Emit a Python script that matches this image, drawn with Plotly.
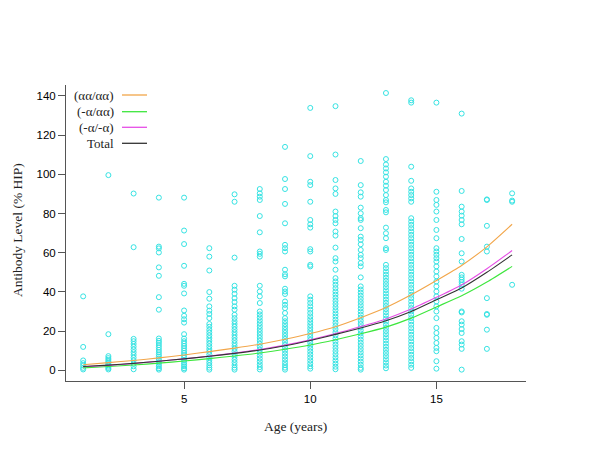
import plotly.graph_objects as go

# ---- Data ----
ages = list(range(1, 19))

a01 = [37.7, 11.9, 5.0, 3.6, 2.4, 1.2, 0.4]
a02 = [99.6, 18.4, 7.2, 6.2, 5.3, 4.5, 3.8, 3.1, 2.5, 1.8, 1.1, 0.4]
a03 = [90.2, 62.8, 16.0, 14.8, 13.4, 12.0, 10.6, 9.2, 7.8, 6.4, 5.0, 3.3, 2.0, 0.5]
a04 = [88.1, 63.1, 62.2, 60.1, 52.5, 48.2, 37.3, 30.9, 16.2, 15.0, 14.0, 12.8, 11.6,
       10.4, 9.2, 8.0, 7.0, 6.0, 5.0, 4.0, 3.0, 2.0, 1.0, 0.3]
a05 = [88.1, 71.3, 64.4, 53.3, 44.1, 43.1, 39.2, 30.5, 27.8, 26.0, 24.3, 18.4, 16.2,
       14.8, 13.6, 12.4, 11.2, 10.0, 8.8, 7.6, 6.4, 5.2, 4.0, 3.0, 2.0, 1.0, 0.3]
a06 = [62.3, 58.0, 50.9, 39.9, 36.5, 32.6, 30.4, 28.7, 26.6, 23.6, 22.2, 20.6, 19.2,
       17.8, 16.4, 15.0, 13.6, 12.2, 10.8, 9.4, 8.0, 6.6, 5.2, 3.8, 2.5, 1.3, 0.3]
a07 = [89.8, 86.0, 57.5, 43.1, 41.1, 39.0, 36.8, 34.8, 32.6, 30.9, 28.3, 26.6, 25.0,
       23.6, 22.2, 20.8, 19.4, 18.0, 16.6, 15.2, 13.8, 12.4, 11.0, 9.6, 8.2, 6.8, 5.4,
       4.0, 2.6, 1.3, 0.3]
a08 = [92.5, 90.3, 88.6, 86.9, 78.7, 70.4, 60.6, 59.4, 58.0, 43.1, 40.2, 37.7, 34.3,
       30.0, 28.5, 27.0, 25.5, 24.0, 22.5, 21.0, 19.5, 18.0, 16.5, 15.0, 13.5, 12.0,
       10.5, 9.0, 7.5, 6.0, 4.5, 3.0, 1.6, 0.4]
a09 = [114.0, 97.6, 92.5, 84.9, 75.0, 64.0, 62.3, 60.6, 51.3, 49.0, 47.9, 41.6, 40.2,
       38.9, 35.1, 33.4, 31.7, 29.2, 26.6, 25.0, 23.5, 22.0, 20.5, 19.0, 17.5, 16.0,
       14.5, 13.0, 11.5, 10.0, 8.5, 7.0, 5.5, 4.0, 2.6, 1.3, 0.3]
a10 = [133.9, 109.3, 96.2, 94.5, 86.0, 76.7, 74.5, 72.8, 61.8, 60.6, 53.8, 53.0, 37.7,
       36.0, 34.3, 32.6, 30.9, 29.2, 27.5, 26.0, 24.5, 23.0, 21.5, 20.0, 18.5, 17.0,
       15.5, 14.0, 12.5, 11.0, 9.5, 8.0, 6.5, 5.0, 3.5, 2.0, 0.8]
a11 = [134.8, 110.1, 97.1, 92.8, 90.0, 81.0, 78.7, 76.7, 75.0, 70.8, 68.7, 62.6, 57.2,
       55.5, 51.3, 47.0, 45.3, 43.6, 41.9, 40.2, 38.6, 37.0, 35.4, 33.8, 32.2, 30.6,
       29.0, 27.4, 25.8, 24.2, 22.6, 21.0, 19.4, 17.8, 16.2, 14.6, 13.0, 11.4, 9.8,
       8.2, 6.6, 5.0, 3.4, 1.8, 0.5]
a12 = [106.8, 94.5, 90.8, 88.6, 83.0, 80.1, 77.6, 76.7, 72.5, 68.2, 66.5, 64.3, 61.4,
       58.9, 57.2, 54.7, 53.0, 47.4, 42.8, 41.2, 39.6, 38.0, 36.4, 34.8, 33.2, 31.6,
       30.0, 28.4, 26.8, 25.2, 23.6, 22.0, 20.4, 18.8, 17.2, 15.6, 14.0, 12.4, 10.8,
       9.2, 7.6, 6.0, 4.4, 2.8, 1.2, 0.3]
a13 = [141.5, 107.8, 105.0, 103.0, 101.0, 98.8, 96.2, 94.2, 92.0, 89.4, 86.9, 85.7,
       81.8, 80.6, 72.8, 69.9, 67.4, 62.3, 61.4, 53.8, 52.1, 50.4, 48.8, 47.2, 45.6,
       44.0, 42.4, 40.8, 39.2, 37.6, 36.0, 34.4, 32.8, 31.2, 29.6, 28.0, 26.4, 24.8,
       23.2, 21.6, 20.0, 18.4, 16.8, 15.2, 13.6, 12.0, 10.4, 8.8, 7.2, 5.6, 4.0, 2.4, 1.0]
a14 = [137.8, 136.6, 103.9, 96.7, 92.8, 91.1, 89.4, 87.7, 86.0, 77.6, 75.9, 74.2, 72.5,
       70.8, 69.1, 67.4, 65.7, 64.0, 62.3, 60.6, 58.9, 57.2, 55.5, 53.8, 52.1, 50.4,
       48.7, 47.0, 45.3, 43.6, 41.9, 40.2, 38.5, 36.8, 35.1, 33.4, 31.7, 30.0, 28.3,
       26.6, 24.9, 23.2, 21.5, 19.8, 18.1, 16.4, 14.7, 13.0, 11.3, 9.6, 7.9, 6.2, 4.5,
       2.8, 1.2]
a15 = [136.6, 91.1, 86.9, 84.4, 81.0, 76.7, 71.6, 67.4, 62.3, 60.6, 58.9, 57.2, 55.5,
       53.0, 50.4, 47.9, 45.3, 42.8, 40.2, 37.7, 35.1, 32.6, 30.0, 26.6, 21.6, 19.0,
       16.5, 13.9, 11.4, 9.7, 4.6, 0.8]
a16 = [131.0, 91.5, 83.5, 81.0, 78.9, 76.7, 74.5, 67.0, 59.7, 55.5, 48.7, 47.4, 46.2,
       45.0, 43.6, 41.6, 30.0, 29.5, 25.0, 23.3, 21.0, 19.0, 14.8, 13.1, 10.9, 0.3]
a17 = [87.2, 86.9, 73.7, 63.1, 60.6, 36.8, 28.7, 28.3, 20.7, 10.9]
a18 = [90.3, 86.6, 86.0, 43.6]

columns = [a01, a02, a03, a04, a05, a06, a07, a08, a09,
           a10, a11, a12, a13, a14, a15, a16, a17, a18]

# fitted curves at integer ages
fit_aa_aa = [2.8, 3.9, 5.0, 6.3, 7.8, 9.5, 11.3, 13.3, 15.8, 18.7, 22.2, 26.8,
             32.0, 38.5, 45.8, 53.5, 63.0, 74.5]
fit_ma_aa = [1.2, 1.9, 2.7, 3.6, 4.7, 5.9, 7.3, 8.8, 10.7, 12.9, 15.6, 18.6,
             22.0, 26.6, 32.3, 38.0, 45.0, 53.0]
fit_ma_ma = [1.8, 2.5, 3.4, 4.6, 5.8, 7.2, 8.8, 10.6, 12.8, 15.5, 18.7, 22.3,
             26.2, 31.2, 37.2, 43.5, 51.8, 61.1]
fit_total = [1.9, 2.6, 3.5, 4.6, 5.8, 7.1, 8.6, 10.3, 12.5, 15.2, 18.3, 21.6,
             25.3, 30.0, 36.0, 42.0, 50.0, 58.9]

series_names = ["(αα/αα)", "(-α/αα)", "(-α/-α)", "Total"]
series_colors = ["#f2a64a", "#3ee63e", "#e64ee6", "#333333"]
series_values = [fit_aa_aa, fit_ma_aa, fit_ma_ma, fit_total]

x_ticks = [5, 10, 15]
y_ticks = [0, 20, 40, 60, 80, 100, 120, 140]

# ---- Figure ----
xs, ys = [], []
for age, vals in zip(ages, columns):
    xs += [age] * len(vals)
    ys += vals

fig = go.Figure()
fig.add_trace(go.Scatter(
    x=xs, y=ys, mode="markers",
    marker=dict(symbol="circle-open", size=5, color="#36e3e3", line=dict(width=1)),
    showlegend=False, hoverinfo="skip"))

for name, col, vals in zip(series_names, series_colors, series_values):
    fig.add_trace(go.Scatter(
        x=ages, y=vals, mode="lines", name=name,
        line=dict(color=col, width=1.1, shape="spline", smoothing=0.6),
        showlegend=False))

# the page body has an 8px default margin, so the figure is offset by it
axis_col = "#555555"
fig.update_layout(
    width=592, height=447,
    margin=dict(l=58, r=74, t=77, b=74, autoexpand=False),
    paper_bgcolor="white", plot_bgcolor="white",
    font=dict(family="Liberation Sans, Arial, sans-serif", size=11.5, color="#000000"),
    xaxis=dict(range=[0.32, 18.55], tickvals=x_ticks, showgrid=False, zeroline=False,
               showline=True, linecolor=axis_col, linewidth=1, automargin=False,
               ticks="outside", ticklen=7, tickcolor=axis_col, tickwidth=1),
    yaxis=dict(range=[-5.5, 145.6], tickvals=y_ticks, showgrid=False, zeroline=False,
               showline=True, linecolor=axis_col, linewidth=1, automargin=False,
               ticks="outside", ticklen=7, tickcolor=axis_col, tickwidth=1),
)

serif = dict(family="Liberation Serif, Times New Roman, serif", size=13.5, color="#222222")
fig.add_annotation(text="Age (years)", xref="paper", yref="paper", x=0.498, y=-0.155,
                   showarrow=False, font=serif, xanchor="center", yanchor="middle")
fig.add_annotation(text="Antibody Level (% HIP)", xref="paper", yref="paper",
                   x=-0.1065, y=0.51, textangle=-90, showarrow=False, font=serif,
                   xanchor="center", yanchor="middle")

# legend drawn R-style: label on the left, line sample on the right
leg_y_px = [95, 111.7, 127.3, 143.3]
plot_top, plot_h, plot_left, plot_w = 85, 296, 66, 460
for name, col, ypx in zip(series_names, series_colors, leg_y_px):
    py = (plot_top + plot_h - ypx) / plot_h
    fig.add_annotation(text=name, xref="paper", yref="paper",
                       x=(116 - plot_left) / plot_w, y=py, xanchor="right",
                       yanchor="middle", showarrow=False,
                       font=dict(family="Liberation Serif, Times New Roman, serif",
                                 size=13, color="#222222"))
    fig.add_shape(type="line", xref="paper", yref="paper",
                  x0=(122 - plot_left) / plot_w, x1=(147 - plot_left) / plot_w,
                  y0=py, y1=py, line=dict(color=col, width=1.3))

fig.write_html("out.html")
